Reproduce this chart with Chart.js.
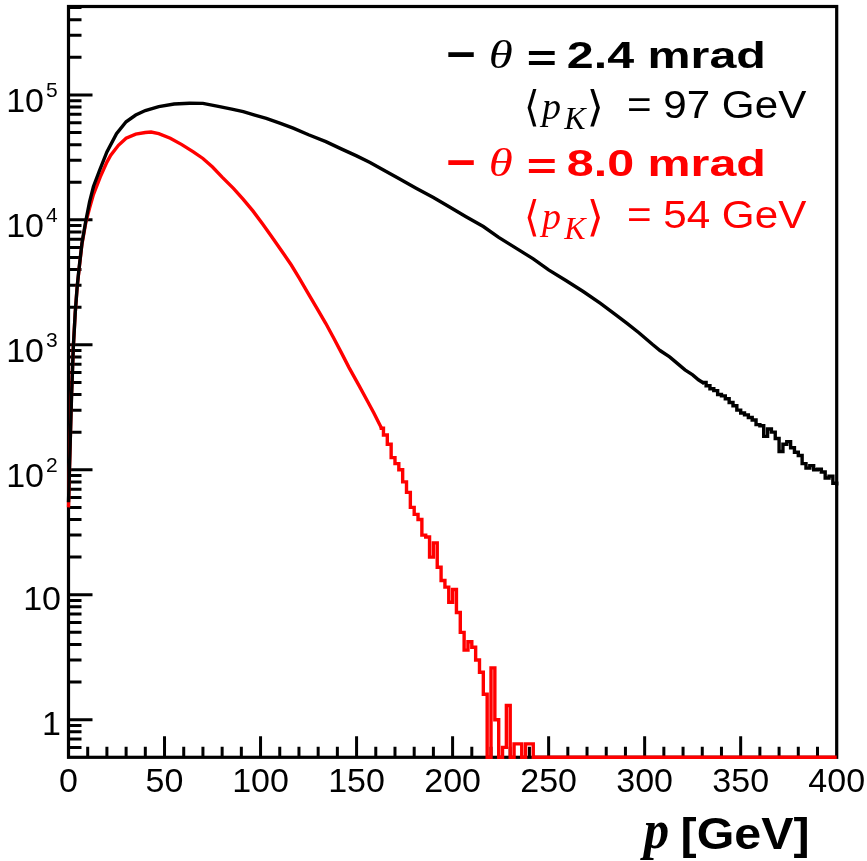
<!DOCTYPE html>
<html>
<head>
<meta charset="utf-8">
<script src="https://cdn.jsdelivr.net/npm/chart.js@4/dist/chart.umd.min.js"></script>
<style>
  html, body { margin: 0; padding: 0; background: #fff; }
  #wrap { width: 867px; height: 861px; position: relative; }
</style>
</head>
<body>
<div id="wrap"><canvas id="momentumChart"></canvas></div>
<script>
const X_MIN = 0;
const X_MAX = 400;
const Y_MIN = 0.5;
const Y_MAX = 5.1e5;

const X_TICK_LABELS = [0, 50, 100, 150, 200, 250, 300, 350, 400];
// [value, base, exponent]
const Y_TICK_LABELS = [
  [1, '1', ''],
  [10, '10', ''],
  [100, '10', '2'],
  [1000, '10', '3'],
  [10000, '10', '4'],
  [100000, '10', '5'],
];

// theta = 2.4 mrad (black), smooth part
const blackMomentum = [
  0, 1.5, 2.5, 3.5, 4.5, 5.5, 7, 9, 11, 13, 16, 20, 25, 30, 35, 40, 47, 55, 63, 70,
  78, 85, 91, 97, 103, 110, 117, 125, 134, 142, 150, 157, 164, 172, 181, 190, 198,
  207, 216, 224, 233, 242, 250, 259, 268, 277, 285, 291, 297, 304, 308, 313, 317,
  321, 325, 328, 331,
];
const blackCounts = [
  55, 350, 950, 1800, 2900, 4100, 6500, 9800, 14000, 18500, 24500, 35000, 49000,
  61000, 69000, 75000, 80500, 84500, 85800, 85500, 81000, 77000, 73500, 69000,
  65000, 59500, 54200, 48000, 42300, 37000, 32500, 28800, 25100, 21400, 17900,
  15100, 12800, 10600, 8840, 7250, 5940, 4880, 3980, 3270, 2670, 2150, 1740, 1480,
  1250, 1010, 900, 800, 710, 630, 575, 525, 490,
];

// theta = 2.4 mrad (black), noisy tail, 2 GeV bins (left edges)
const blackTailMomentum = [
  330, 332, 334, 336, 338, 340, 342, 344, 346, 348, 350, 352, 354, 356, 358, 360,
  362, 364, 366, 368, 370, 372, 374, 376, 378, 380, 382, 384, 386, 388, 390, 392,
  394, 396, 398, 400,
];
const blackTailCounts = [
  500, 470, 445, 430, 400, 390, 370, 345, 325, 300, 285, 275, 262, 250, 230, 225,
  185, 212, 200, 178, 140, 160, 168, 150, 138, 130, 112, 103, 108, 100, 101, 96, 86,
  89, 78, 75,
];

// theta = 8.0 mrad (red), smooth part
const redMomentum = [
  0, 1.5, 2.5, 3.5, 4.5, 5.5, 7, 9, 11, 13, 16.5, 20, 22, 26, 30, 35, 40, 43, 47,
  53, 59, 65, 70, 75, 80, 86, 91, 96, 101, 106, 112, 116, 120, 125, 129, 134, 138,
  142, 146, 151, 155, 159, 163,
];
const redCounts = [
  50, 380, 960, 1800, 2900, 4000, 6400, 9500, 12500, 16000, 22000, 29000, 33000,
  39500, 45000, 48500, 50000, 50500, 49000, 45000, 40000, 35000, 31000, 26500,
  22000, 17800, 14600, 11800, 9300, 7250, 5350, 4350, 3450, 2550, 2000, 1480, 1140,
  870, 660, 480, 370, 285, 215,
];

// theta = 8.0 mrad (red), noisy tail, 2 GeV bins (left edges), 0 = empty bin
const redTailMomentum = [
  162, 164, 166, 168, 170, 172, 174, 176, 178, 180, 182, 184, 186, 188, 190, 192,
  194, 196, 198, 200, 202, 204, 206, 208, 210, 212, 214, 216, 218, 220, 222, 224,
  226, 228, 230, 232, 234, 236, 238, 240, 242, 400,
];
const redTailCounts = [
  215, 190, 160, 125, 112, 100, 80, 66, 50, 44, 40, 30, 29, 20, 26, 16.6, 13, 11.5,
  8.7, 11, 7.2, 5, 3.6, 4.2, 3.8, 3.0, 2.4, 1.6, 0, 2.6, 1, 0, 0.6, 1.3, 0, 0.64,
  0.64, 0, 0.64, 0.64, 0, 0,
];

const LEGEND_ENTRIES = [
  { color: '#000000', angle: '2.4 mrad', mean: '= 97 GeV', dy: 0 },
  { color: '#ff0000', angle: '8.0 mrad', mean: '= 54 GeV', dy: 108 },
];

const SANS = '"Liberation Sans", Arial, Helvetica, sans-serif';
const SERIF = '"Liberation Serif", "Times New Roman", serif';

const toPoints = (xs, ys) =>
  xs.map((p, i) => ({ x: p, y: ys[i] > 0 ? ys[i] : Y_MIN }));

/**
 * Draws text stretched so its visible ink fills the box (x0,y0)-(x1,y1)
 */
function fitBox(ctx, text, x0, y0, x1, y1, font, color) {
  ctx.save();
  ctx.font = font;
  ctx.fillStyle = color;
  ctx.textAlign = 'left';
  ctx.textBaseline = 'alphabetic';
  const m = ctx.measureText(text);
  const w = m.actualBoundingBoxLeft + m.actualBoundingBoxRight;
  const h = m.actualBoundingBoxAscent + m.actualBoundingBoxDescent;
  const sx = (x1 - x0) / w;
  const sy = (y1 - y0) / h;
  ctx.translate(x0 + m.actualBoundingBoxLeft * sx, y0 + m.actualBoundingBoxAscent * sy);
  ctx.scale(sx, sy);
  ctx.fillText(text, 0, 0);
  ctx.restore();
}

/**
 * ROOT-like frame with ticks pointing inward
 */
const frameAndTicks = {
  id: 'frameAndTicks',
  beforeDatasetsDraw(chart) {
    const { ctx, chartArea, scales } = chart;
    const { left, right, top, bottom } = chartArea;
    const { x, y } = scales;
    ctx.save();
    ctx.strokeStyle = '#000';
    ctx.lineWidth = 3.2;
    ctx.strokeRect(left, top, right - left, bottom - top);

    ctx.lineWidth = 3;
    ctx.beginPath();
    for (let v = X_MIN + 10; v < X_MAX; v += 10) {
      const px = x.getPixelForValue(v);
      const len = v % 50 === 0 ? 21 : 10.5;
      ctx.moveTo(px, bottom);
      ctx.lineTo(px, bottom - len);
    }
    for (let e = -1; e <= 5; e++) {
      for (let k = 1; k <= 9; k++) {
        const v = k * Math.pow(10, e);
        if (v <= Y_MIN || v >= Y_MAX) continue;
        const py = y.getPixelForValue(v);
        const len = k === 1 ? 24 : 13;
        ctx.moveTo(left, py);
        ctx.lineTo(left + len, py);
      }
    }
    ctx.stroke();
    ctx.restore();
  },

  afterDraw(chart) {
    const { ctx, scales } = chart;
    const { x, y } = scales;
    ctx.save();
    ctx.fillStyle = '#000';
    ctx.textBaseline = 'alphabetic';

    // x tick labels
    ctx.font = `34px ${SANS}`;
    ctx.textAlign = 'center';
    X_TICK_LABELS.forEach(v => {
      ctx.fillText(String(v), x.getPixelForValue(v), 792);
    });

    // y tick labels
    Y_TICK_LABELS.forEach(([v, base, exp]) => {
      const py = y.getPixelForValue(v);
      ctx.textAlign = 'right';
      ctx.font = `34px ${SANS}`;
      if (exp) {
        ctx.fillText(base, 44, py + 17);
        ctx.font = `21px ${SANS}`;
        ctx.textAlign = 'left';
        ctx.fillText(exp, 46, py + 2);
      } else {
        ctx.fillText(base, 61, py + 15.5);
      }
    });
    ctx.restore();

    // axis title
    fitBox(ctx, 'p', 640, 820, 668, 860, `italic bold 40px ${SERIF}`, '#000');
    fitBox(ctx, '[GeV]', 683, 815, 808, 858, `bold 40px ${SANS}`, '#000');

    // legend
    LEGEND_ENTRIES.forEach(({ color, angle, mean, dy }) => {
      fitBox(ctx, '\u2013', 448, 51 + dy, 475, 57 + dy, `bold 40px ${SANS}`, color);
      fitBox(ctx, '\u03b8', 490, 40 + dy, 512, 68 + dy, `italic 40px ${SERIF}`, color);
      fitBox(ctx, '=', 528, 50 + dy, 555, 65 + dy, `bold 40px ${SANS}`, color);
      fitBox(ctx, angle, 568, 40 + dy, 763, 68 + dy, `bold 40px ${SANS}`, color);

      const d2 = dy ? dy + 2 : 0;
      fitBox(ctx, '\u27e8', 527, 88 + d2, 537, 127 + d2, `40px "DejaVu Sans", sans-serif`, color);
      fitBox(ctx, 'p', 539, 101 + d2, 560, 127 + d2, `italic 38px ${SERIF}`, color);
      fitBox(ctx, 'K', 563, 109 + d2, 587, 129 + d2, `italic 28px ${SERIF}`, color);
      fitBox(ctx, '\u27e9', 590, 88 + d2, 601, 127 + d2, `40px "DejaVu Sans", sans-serif`, color);
      fitBox(ctx, mean, 628, 90 + d2, 807, 118 + d2, `38px ${SANS}`, color);
    });
  },
};

const lineStyle = {
  pointRadius: 0,
  borderWidth: 3.4,
  tension: 0,
  fill: false,
  clip: 4,
};

new Chart(document.getElementById('momentumChart'), {
  type: 'line',
  data: {
    datasets: [
      {
        ...lineStyle,
        label: '8.0 mrad tail',
        data: toPoints(redTailMomentum, redTailCounts),
        borderColor: '#ff0000',
        stepped: 'before',
        order: 4,
      },
      {
        ...lineStyle,
        label: '8.0 mrad',
        data: toPoints(redMomentum, redCounts),
        borderColor: '#ff0000',
        order: 3,
      },
      {
        ...lineStyle,
        label: '2.4 mrad tail',
        data: toPoints(blackTailMomentum, blackTailCounts),
        borderColor: '#000000',
        stepped: 'before',
        order: 2,
      },
      {
        ...lineStyle,
        label: '2.4 mrad',
        data: toPoints(blackMomentum, blackCounts),
        borderColor: '#000000',
        order: 1,
      },
    ],
  },
  options: {
    responsive: true,
    maintainAspectRatio: false,
    animation: false,
    events: [],
    layout: { padding: { left: 68.5, right: 30.3, top: 6.5, bottom: 103.7 } },
    plugins: { legend: { display: false }, tooltip: { enabled: false } },
    scales: {
      x: { type: 'linear', min: X_MIN, max: X_MAX, display: false },
      y: { type: 'logarithmic', min: Y_MIN, max: Y_MAX, display: false },
    },
  },
  plugins: [frameAndTicks],
});
</script>
</body>
</html>
